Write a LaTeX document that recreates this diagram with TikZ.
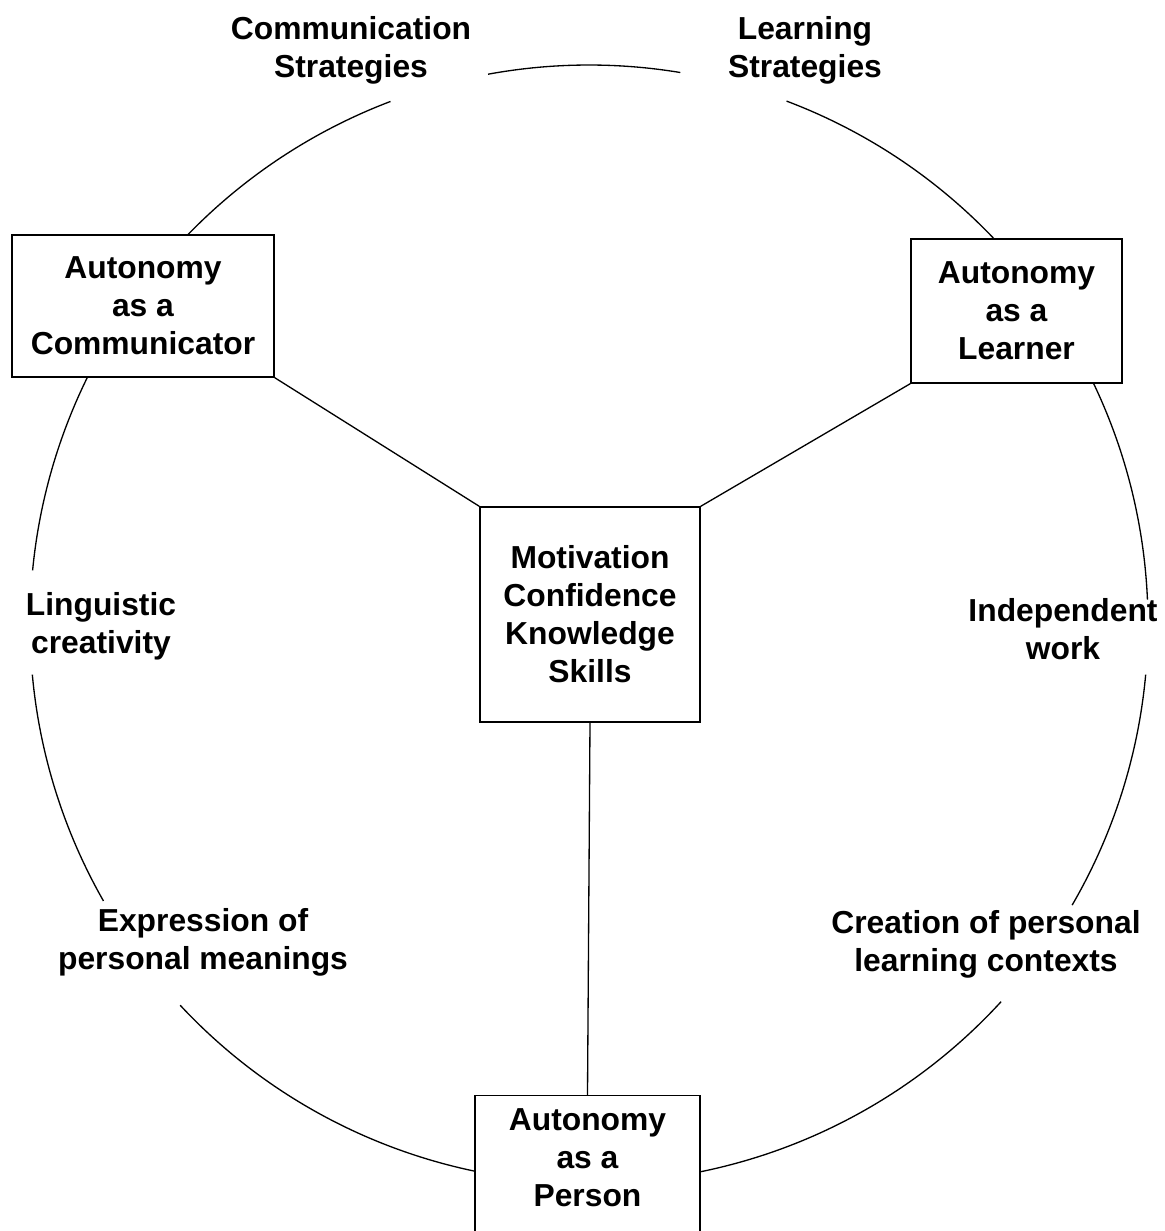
\documentclass[tikz,border=0pt]{standalone}
\usepackage{fontspec}
\setmainfont{Liberation Sans}
\usepackage{tikz}

\begin{document}
\begin{tikzpicture}[x=0.02cm, y=0.02cm, line width=0.75pt,
    txt/.style={font=\bfseries\fontsize{18.1}{21.6}\selectfont, align=center},
    box/.style={txt, draw, fill=white, inner sep=0pt}]
    \useasboundingbox (0,0) rectangle (1164,1231);
    % circle, broken at the labels
    \draw (589,607) ++(80.6:559) arc[start angle=80.6, end angle=100.4, radius=559];
    \draw (589,607) ++(2.5:559) arc[start angle=2.5, end angle=69.3, radius=559];
    \draw (589,607) ++(-30.2:559) arc[start angle=-30.2, end angle=-5.2, radius=559];
    \draw (589,607) ++(-137:559) arc[start angle=-137, end angle=-42.5, radius=559];
    \draw (589,607) ++(-174.8:559) arc[start angle=-174.8, end angle=-150.3, radius=559];
    \draw (589,607) ++(110.8:559) arc[start angle=110.8, end angle=174.5, radius=559];
    % boxes
    \node[box, minimum width=5.24cm, minimum height=2.84cm] (comm) at (143,925) {Autonomy\\as a\\Communicator};
    \node[box, minimum width=4.22cm, minimum height=2.88cm] (learn) at (1016.5,920) {Autonomy\\as a\\Learner};
    \node[box, minimum width=4.4cm, minimum height=4.3cm] (core) at (590,616.5) {Motivation\\Confidence\\Knowledge\\Skills};
    \node[box, minimum width=4.5cm, inner ysep=0.26cm, text depth=2cm, anchor=north] (person) at (587.5,136) {Autonomy\\as a\\Person};
    \draw (comm.south east) -- (core.north west);
    \draw (learn.south west) -- (core.north east);
    \draw (core.south) -- (person.north);
    % labels on the circle
    \node[txt] (commstr) at (351,1180.5) {Communication\\Strategies};
    \node[txt] (learnstr) at (805,1181) {Learning\\Strategies};
    \node[txt] (ling) at (101,605) {Linguistic\\creativity};
    \node[txt] (indep) at (1063,602) {Independent\\work};
    \node[txt] (expr) at (203,289) {Expression of\\personal meanings};
    \node[txt] (creat) at (986,287) {Creation of personal\\learning contexts};
\end{tikzpicture}
\end{document}
